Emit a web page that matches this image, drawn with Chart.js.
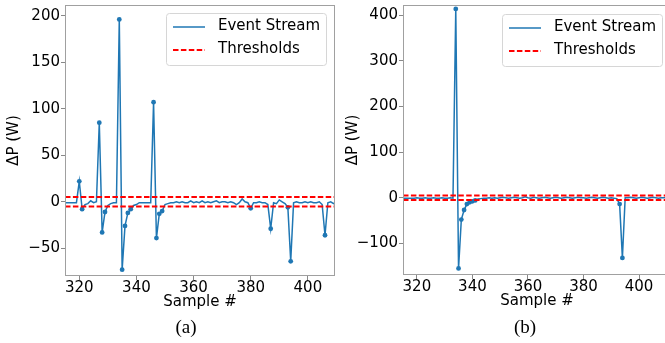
<!DOCTYPE html>
<html><head><meta charset="utf-8">
<script src="https://cdn.jsdelivr.net/npm/chart.js@4/dist/chart.umd.min.js"></script>
<style>
html,body{margin:0;padding:0;background:#fff;width:665px;height:343px;overflow:hidden;}
#wrap{position:relative;width:665px;height:343px;overflow:hidden;}
canvas{position:absolute;top:0;}
#cA{left:0;}
#cB{left:336px;}
.cap{position:absolute;font-family:'Liberation Serif','Times New Roman',serif;font-size:19px;color:#000;transform:translate(-50%,-50%);top:327px;white-space:nowrap;}
</style></head><body>
<div id="wrap">
<canvas id="cA" width="336" height="320"></canvas>
<canvas id="cB" width="338" height="320"></canvas>
<div class="cap" style="left:186px">(a)</div>
<div class="cap" style="left:525px">(b)</div>
</div>
<script>
// ---- data ----
const samples = [315,316,317,318,319,320,321,322,323,324,325,326,327,328,329,330,331,332,333,334,
  335,336,337,338,339,340,341,342,343,344,345,346,347,348,349,350,351,352,353,354,
  355,356,357,358,359,360,361,362,363,364,365,366,367,368,369,370,371,372,373,374,
  375,376,377,378,379,380,381,382,383,384,385,386,387,388,389,390,391,392,393,394,
  395,396,397,398,399,400,401,402,403,404,405,406,407,408,409,410,411,412];

const streamA = [-1,-1,-1,-1,-1,
  22,-8,-3,-2,1,-1,0,
  85,-33,-11,-4,-2,-1,-1,
  196,-73,-26,-12,-8,-4,-3,-1,-1,-1,-1,-1,
  107,-39,-13,-10,-3,
  -2,-1,-1,0,-1,0,-1,-1,1,-1,0,-1,1,-1,0,-1,0,1,-1,0,0,-1,0,-1,-3,-1,
  3,0,-1,-7,-1,-1,0,-1,-1,-3,
  -29,-1,-2,2,0,-2,-6,-64,-1,0,
  -1,-1,0,-1,0,-1,-1,0,-3,-36,
  -1,0,-2,0];

const streamB = [-1,-1,-1,-1,-1,0,-1,-1,0,-1,-1,0,-1,-1,0,-1,-1,0,-1,
  414,-155,-48,-27,-14,-10,-8,-6,-3,-2,-1,
  -1,0,-1,0,-1,0,1,0,-1,0,
  1,0,-1,0,2,0,-1,1,0,-1,
  0,1,0,-1,0,1,0,-1,0,1,
  0,-1,0,1,0,0,-1,0,1,0,
  -1,0,1,0,-1,0,-1,
  -2,-14,-132,0,0,
  1,0,-1,0,1,0,-1,0,1,0,-1,0,0,1,0,-1];

const threshold = 5;
const xTicks = [320,340,360,380,400];
const yTicksA = [-50,0,50,100,150,200];
const yTicksB = [-100,0,100,200,300,400];
const xLimA = [315, 409.5];
const xLimB = [315, 411.5];
const yLimA = [-79.8, 211.5];
const yLimB = [-169.5, 422.6];
const legendLabels = ['Event Stream', 'Thresholds'];
const xTitle = 'Sample #';
const yTitle = 'ΔP (W)';

// ---- styling ----
const FONT = "'DejaVu Sans', 'Liberation Sans', sans-serif";
Chart.defaults.font.family = FONT;
Chart.defaults.font.size = 15;
Chart.defaults.color = '#000';
const BLUE = '#1f77b4';
const RED = '#ff0000';
const SPINE = '#a0a0a0';

const fmt = v => String(v).replace('-', '\u2212');

const framePlugin = {
  id: 'frame',
  afterDatasetsDraw(chart) {
    const {ctx, chartArea: a} = chart;
    ctx.save();
    ctx.strokeStyle = SPINE;
    ctx.lineWidth = 1;
    ctx.strokeRect(a.left + 0.5, a.top + 0.5, a.right - a.left - 1, a.bottom - a.top - 1);
    ctx.restore();
  }
};

const insideLegend = {
  id: 'insideLegend',
  afterDraw(chart, args, opts) {
    const {ctx, chartArea: a} = chart;
    const items = legendLabels.map(l => chart.data.datasets.find(d => d.label === l)).filter(Boolean);
    ctx.save();
    ctx.font = '15px ' + FONT;
    const textW = Math.max(...items.map(d => ctx.measureText(d.label).width));
    const padL = 7, handle = 32, gap = 13, padR = 6, rowH = 23, h = 52;
    const w = padL + handle + gap + textW + padR;
    const x0 = Math.round(a.right - opts.right - w), y0 = Math.round(a.top + opts.top);
    ctx.beginPath();
    ctx.roundRect(x0 + 0.5, y0 + 0.5, w, h, 3);
    ctx.fillStyle = 'rgba(255,255,255,0.85)';
    ctx.fill();
    ctx.strokeStyle = '#d6d6d6';
    ctx.lineWidth = 1;
    ctx.stroke();
    items.forEach((d, i) => {
      const cy = y0 + 13.5 + i * rowH;
      ctx.beginPath();
      ctx.setLineDash(d.borderDash || []);
      ctx.strokeStyle = d.borderColor;
      ctx.lineWidth = d.borderWidth;
      ctx.moveTo(x0 + padL, cy + 0.5);
      ctx.lineTo(x0 + padL + handle, cy + 0.5);
      ctx.stroke();
      ctx.setLineDash([]);
      ctx.fillStyle = '#000';
      ctx.textBaseline = 'middle';
      ctx.textAlign = 'left';
      ctx.fillText(d.label, x0 + padL + handle + gap, cy);
    });
    ctx.restore();
  }
};

function noPad(s) { s.paddingTop = 0; s.paddingBottom = 0; s.paddingLeft = 0; s.paddingRight = 0; }

function makeChart(id, stream, xLim, yLim, yTicks, g) {
  const pts = stream.map((v, i) => ({x: samples[i], y: v}));
  const thrLine = s => [{x: xLim[0], y: s * threshold}, {x: xLim[1], y: s * threshold}];
  return new Chart(document.getElementById(id), {
    type: 'line',
    data: {
      datasets: [
        {label: 'Thresholds', data: thrLine(1), borderColor: RED, borderWidth: 2,
         borderDash: [5.5, 2.4], pointRadius: 0, order: 0},
        {label: '', data: thrLine(-1), borderColor: RED, borderWidth: 2,
         borderDash: [5.5, 2.4], pointRadius: 0, order: 0},
        {label: 'Event Stream', data: pts, borderColor: BLUE, borderWidth: 1.5,
         backgroundColor: BLUE, pointBackgroundColor: BLUE, pointBorderWidth: 0,
         pointRadius: c => (c.raw && Math.abs(c.raw.y) > threshold) ? 2.4 : 0,
         pointHoverRadius: 0, tension: 0, order: 1}
      ]
    },
    options: {
      responsive: false,
      animation: false,
      events: [],
      layout: {padding: g.pad},
      plugins: {legend: {display: false}, tooltip: {enabled: false}, insideLegend: g.legend},
      scales: {
        x: {
          type: 'linear', min: xLim[0], max: xLim[1],
          afterBuildTicks: ax => { ax.ticks = xTicks.map(v => ({value: v})); },
          afterFit: s => { s.height = g.xHeight; noPad(s); },
          ticks: {callback: fmt, autoSkip: false, maxRotation: 0, padding: -1, color: '#000'},
          grid: {drawOnChartArea: false, drawTicks: true, tickLength: 4, color: '#888'},
          border: {display: false},
          title: {display: true, text: xTitle, padding: {top: 0, bottom: g.xTitlePad}, color: '#000'}
        },
        y: {
          type: 'linear', min: yLim[0], max: yLim[1],
          afterBuildTicks: ax => { ax.ticks = yTicks.map(v => ({value: v})); },
          afterFit: s => { s.width = g.yWidth; noPad(s); },
          ticks: {callback: fmt, autoSkip: false, padding: 1, color: '#000'},
          grid: {drawOnChartArea: false, drawTicks: true, tickLength: 4, color: '#888'},
          border: {display: false},
          title: {display: true, text: yTitle, padding: {top: g.yTitlePad, bottom: 0}, color: '#000'}
        }
      }
    },
    plugins: [framePlugin, insideLegend]
  });
}

makeChart('cA', streamA, xLimA, yLimA, yTicksA, {
  pad: {top: 5, right: 1, left: 0, bottom: 0}, yWidth: 65, xHeight: 44,
  xTitlePad: 9, yTitlePad: 5.5, legend: {right: 9, top: 8}
});
makeChart('cB', streamB, xLimB, yLimB, yTicksB, {
  pad: {top: 5, right: 3, left: 0, bottom: 0}, yWidth: 67, xHeight: 45,
  xTitlePad: 9.5, yTitlePad: 8, legend: {right: 9, top: 9}
});
</script>
</body></html>
